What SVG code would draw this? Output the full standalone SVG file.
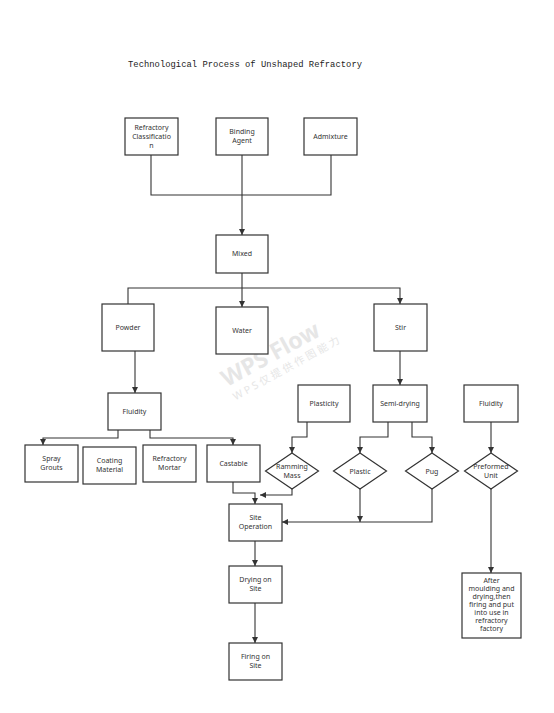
<svg xmlns="http://www.w3.org/2000/svg" width="554" height="713" viewBox="0 0 554 713">
<defs>
<style>
.b{fill:#fff;stroke:#333;stroke-width:1.2}
.t{font-family:"Noto Sans","Open Sans",sans-serif;font-size:7px;fill:#333;text-anchor:middle}
.c{fill:none;stroke:#333;stroke-width:1.1}
.wm{font-family:"Noto Sans","Noto Sans CJK SC",sans-serif;fill:#e6e6e6;text-anchor:middle}
</style>
<marker id="a" markerUnits="userSpaceOnUse" markerWidth="8" markerHeight="8" refX="6" refY="3" orient="auto">
<path d="M0,0 L6,3 L0,6 Z" fill="#333"/>
</marker>
</defs>
<rect width="554" height="713" fill="#fff"/>
<g id="watermark">
<text class="wm" x="271" y="362" font-size="23" font-weight="bold" transform="rotate(-28.7 271 355)">WPS Flow</text>
<text class="wm" x="286" y="372" font-size="10.5" textLength="120" transform="rotate(-29 286 368)">WPS仅提供作图能力</text>
</g>
<text x="128" y="67" font-family="'Liberation Mono','DejaVu Sans Mono',monospace" font-size="8.8" fill="#222" textLength="234">Technological Process of Unshaped Refractory</text>
<g id="connectors">
<polyline class="c" points="151,155 151,195 331,195 331,155"/>
<polyline class="c" points="242,155 242,235" marker-end="url(#a)"/>
<polyline class="c" points="242,273 242,288"/>
<polyline class="c" points="128,304 128,288 400,288 400,304" marker-end="url(#a)"/>
<polyline class="c" points="242,288 242,307" marker-end="url(#a)"/>
<polyline class="c" points="135,351 135,393" marker-end="url(#a)"/>
<polyline class="c" points="118,430 118,438 43,438 43,445" marker-end="url(#a)"/>
<polyline class="c" points="150,430 150,438 233,438 233,445" marker-end="url(#a)"/>
<polyline class="c" points="400,351 400,385" marker-end="url(#a)"/>
<polyline class="c" points="307,422 307,437 292,437 292,453" marker-end="url(#a)"/>
<polyline class="c" points="388,422 388,437 360,437 360,453" marker-end="url(#a)"/>
<polyline class="c" points="412,422 412,437 432,437 432,453" marker-end="url(#a)"/>
<polyline class="c" points="491,422 491,453" marker-end="url(#a)"/>
<polyline class="c" points="233,482 233,493 255,493 255,504" marker-end="url(#a)"/>
<polyline class="c" points="292,489 292,495 260,495" marker-end="url(#a)"/>
<polyline class="c" points="360,489 360,522" marker-end="url(#a)"/>
<polyline class="c" points="432,489 432,522 282,522" marker-end="url(#a)"/>
<polyline class="c" points="255,541 255,566" marker-end="url(#a)"/>
<polyline class="c" points="255,603 255,643" marker-end="url(#a)"/>
<polyline class="c" points="491,489 491,573" marker-end="url(#a)"/>
</g>
<g id="refractory-classification"><rect class="b" x="125" y="118" width="53" height="37"/><text class="t" x="151.5" y="130">Refractory</text><text class="t" x="151.5" y="139">Classificatio</text><text class="t" x="151.5" y="148">n</text></g>
<g id="binding-agent"><rect class="b" x="216" y="118" width="52" height="37"/><text class="t" x="242" y="134">Binding</text><text class="t" x="242" y="143">Agent</text></g>
<g id="admixture"><rect class="b" x="304" y="118" width="53" height="37"/><text class="t" x="330.5" y="139">Admixture</text></g>
<g id="mixed"><rect class="b" x="216" y="235" width="52" height="38"/><text class="t" x="242" y="256">Mixed</text></g>
<g id="powder"><rect class="b" x="102" y="304" width="52" height="47"/><text class="t" x="128" y="330">Powder</text></g>
<g id="water"><rect class="b" x="216" y="307" width="52" height="47"/><text class="t" x="242" y="333">Water</text></g>
<g id="stir"><rect class="b" x="374" y="304" width="53" height="47"/><text class="t" x="400.5" y="330">Stir</text></g>
<g id="fluidity-left"><rect class="b" x="108" y="393" width="53" height="37"/><text class="t" x="134.5" y="414">Fluidity</text></g>
<g id="spray-grouts"><rect class="b" x="25" y="445" width="53" height="37"/><text class="t" x="51.5" y="461">Spray</text><text class="t" x="51.5" y="470">Grouts</text></g>
<g id="coating-material"><rect class="b" x="83" y="447" width="53" height="37"/><text class="t" x="109.5" y="463">Coating</text><text class="t" x="109.5" y="472">Material</text></g>
<g id="refractory-mortar"><rect class="b" x="143" y="445" width="53" height="37"/><text class="t" x="169.5" y="461">Refractory</text><text class="t" x="169.5" y="470">Mortar</text></g>
<g id="castable"><rect class="b" x="207" y="445" width="53" height="37"/><text class="t" x="233.5" y="466">Castable</text></g>
<g id="plasticity"><rect class="b" x="298" y="385" width="52" height="37"/><text class="t" x="324" y="406">Plasticity</text></g>
<g id="semi-drying"><rect class="b" x="373" y="385" width="54" height="37"/><text class="t" x="400" y="406">Semi-drying</text></g>
<g id="fluidity-right"><rect class="b" x="464" y="385" width="54" height="37"/><text class="t" x="491" y="406">Fluidity</text></g>
<g id="ramming-mass"><polygon class="b" points="292,453 318.5,471 292,489 265.5,471"/><text class="t" x="292" y="469">Ramming</text><text class="t" x="292" y="478">Mass</text></g>
<g id="plastic"><polygon class="b" points="360,453 386.5,471 360,489 333.5,471"/><text class="t" x="360" y="474">Plastic</text></g>
<g id="pug"><polygon class="b" points="432,453 458.5,471 432,489 405.5,471"/><text class="t" x="432" y="474">Pug</text></g>
<g id="preformed-unit"><polygon class="b" points="491,453 517.5,471 491,489 464.5,471"/><text class="t" x="491" y="469">Preformed</text><text class="t" x="491" y="478">Unit</text></g>
<g id="site-operation"><rect class="b" x="229" y="504" width="53" height="37"/><text class="t" x="255.5" y="520">Site</text><text class="t" x="255.5" y="529">Operation</text></g>
<g id="drying-on-site"><rect class="b" x="229" y="566" width="53" height="37"/><text class="t" x="255.5" y="582">Drying on</text><text class="t" x="255.5" y="591">Site</text></g>
<g id="firing-on-site"><rect class="b" x="229" y="643" width="53" height="37"/><text class="t" x="255.5" y="659">Firing on</text><text class="t" x="255.5" y="668">Site</text></g>
<g id="after-moulding"><rect class="b" x="462" y="573" width="59" height="65"/><text class="t" x="491.5" y="583">After</text><text class="t" x="491.5" y="591">moulding and</text><text class="t" x="491.5" y="599">drying,then</text><text class="t" x="491.5" y="607">firing and put</text><text class="t" x="491.5" y="615">into use in</text><text class="t" x="491.5" y="623">refractory</text><text class="t" x="491.5" y="631">factory</text></g>
</svg>
